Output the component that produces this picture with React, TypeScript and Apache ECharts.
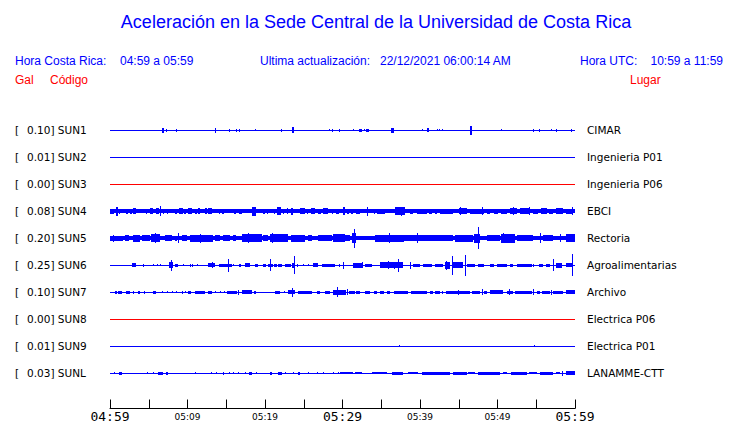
import React, { useEffect, useRef } from "react";
import * as echarts from "echarts";

const codes = ["SUN1", "SUN2", "SUN3", "SUN4", "SUN5", "SUN6", "SUN7", "SUN8", "SUN9", "SUNL"];
const galMax = ["0.10", "0.01", "0.00", "0.08", "0.20", "0.25", "0.10", "0.00", "0.01", "0.03"];
const places = ["CIMAR", "Ingenieria P01", "Ingenieria P06", "EBCI", "Rectoria", "Agroalimentarias", "Archivo", "Electrica P06", "Electrica P01", "LANAMME-CTT"];
const traceColors = ["#0000ff", "#0000ff", "#ff0000", "#0000ff", "#0000ff", "#0000ff", "#0000ff", "#ff0000", "#0000ff", "#0000ff"];
// labels of the ticks at minutes 0, 10, ..., 60 after 04:59
const tickLabels = ["04:59", "05:09", "05:19", "05:29", "05:39", "05:49", "05:59"];
// background noise half-amplitude per trace (units: 10 = trace spacing)
const noise = [0, 0, 0, 0.7, 0.8, 0, 0, 0, 0, 0];

// bursts: [startMinute, endMinute, halfAmplitude]
const sun1 = [[6.75,7.0,0.9],[7.2,7.2,0.5],[8.56,8.56,0.5],[13.6,13.6,0.9],[15.4,15.4,0.5],[16.3,16.4,0.6],[16.6,16.8,0.6],[18.75,18.75,0.3],[22.0,22.0,0.5],[23.5,23.7,1.1],[28.3,28.3,0.3],[28.7,28.7,0.5],[29.6,29.6,0.5],[31.4,31.4,0.4],[32.1,32.5,0.55],[32.8,32.8,0.4],[33.0,33.4,0.55],[36.3,36.6,0.9],[40.2,40.2,0.4],[40.9,41.2,0.75],[42.2,42.2,0.4],[42.4,42.6,0.4],[42.9,42.9,0.4],[46.4,46.7,1.75],[50.4,50.4,0.3],[54.6,54.6,0.5],[55.4,55.4,0.5],[56.9,56.9,0.3],[57.5,57.5,0.5],[59.5,59.5,0.5]];
const sun2: number[][] = [];
const sun3: number[][] = [];
const sun4 = [[0.0,0.5,1.0],[0.8,1.0,1.6],[1.1,1.3,1.0],[2.0,2.3,1.0],[2.6,2.8,1.0],[3.0,3.4,1.1],[4.6,4.8,1.0],[5.1,5.6,1.1],[5.9,6.3,1.1],[6.4,6.55,1.9],[6.8,7.0,1.0],[7.3,7.5,1.0],[8.4,8.6,1.0],[8.9,9.4,1.2],[9.6,9.8,1.0],[10.1,10.6,1.1],[11.0,11.2,1.0],[11.3,11.6,1.1],[12.3,12.5,1.2],[12.7,13.1,1.1],[14.0,14.2,1.0],[14.5,14.75,1.0],[16.0,16.2,1.0],[16.6,17.0,1.0],[18.3,18.9,1.6],[19.8,20.0,1.0],[20.3,20.4,1.0],[21.1,21.3,1.0],[21.6,22.1,1.5],[22.3,22.4,1.0],[22.8,23.0,1.1],[23.4,23.65,1.3],[24.5,25.2,1.1],[25.4,25.6,1.0],[25.9,26.45,1.1],[26.9,27.2,1.0],[27.5,28.1,1.1],[28.6,28.8,1.0],[29.2,29.5,1.0],[30.0,30.3,1.4],[30.6,30.8,0.9],[31.1,31.3,0.9],[31.7,32.3,0.9],[33.2,33.3,1.6],[34.0,34.2,1.0],[34.5,35.5,1.0],[36.8,38.0,1.4],[37.6,37.7,1.6],[38.7,39.1,1.0],[39.6,40.9,1.0],[41.1,41.6,1.0],[41.9,42.2,1.0],[42.6,44.3,1.0],[45.0,46.0,1.1],[45.2,45.3,1.5],[46.4,48.2,1.0],[48.0,48.1,1.5],[48.6,49.0,1.0],[49.5,50.0,1.0],[50.5,51.2,1.0],[51.6,52.5,1.1],[52.0,52.1,1.5],[52.9,54.2,1.1],[54.1,54.2,1.5],[54.6,55.2,1.0],[55.6,56.4,1.1],[56.7,57.2,1.0],[57.6,58.5,1.1],[58.9,59.8,1.0],[59.6,59.7,1.5]];
const sun5 = [[0.0,1.7,1.0],[0.4,0.5,1.3],[1.9,2.4,1.2],[3.0,3.9,1.3],[4.1,5.2,1.2],[5.3,6.45,1.5],[5.8,5.9,1.8],[7.1,8.0,1.2],[8.4,8.6,1.0],[8.8,8.85,1.8],[9.25,9.9,1.2],[10.3,13.3,1.3],[11.6,11.7,1.7],[13.55,14.2,1.1],[14.6,15.5,1.2],[15.9,16.3,1.1],[17.0,19.6,1.4],[17.8,17.9,1.9],[19.8,20.4,1.1],[20.65,23.0,1.4],[20.9,21.0,1.9],[23.4,25.2,1.3],[25.6,26.0,1.1],[26.9,28.6,1.2],[28.8,30.3,1.5],[29.7,31.0,1.1],[31.2,31.8,1.8],[31.5,31.55,3.5],[34.2,37.9,1.3],[36.0,36.05,1.85],[37.9,44.3,1.2],[39.6,39.65,1.8],[44.5,46.9,1.3],[47.0,47.8,1.6],[47.5,47.55,4.0],[48.6,50.3,1.1],[50.5,52.3,1.6],[50.75,50.8,1.9],[52.5,54.6,1.1],[55.5,55.55,1.8],[55.9,57.2,1.1],[58.1,58.15,1.5],[58.9,60.0,1.5]];
const sun6 = [[2.9,3.35,0.8],[4.3,4.3,0.55],[5.6,5.6,0.3],[6.0,6.0,0.3],[6.45,6.45,0.3],[7.66,8.17,1.2],[7.85,7.9,2.0],[8.4,8.8,0.55],[9.46,9.46,0.4],[10.3,10.3,0.5],[10.6,10.6,0.5],[11.2,11.2,0.4],[12.7,13.55,0.75],[13.2,13.3,1.1],[14.0,15.7,0.55],[15.25,15.3,2.5],[15.9,15.9,0.4],[16.6,16.9,0.55],[17.4,18.1,0.8],[18.7,19.1,0.55],[19.8,20.1,0.55],[20.4,21.0,0.55],[20.67,20.72,2.15],[21.2,21.5,0.55],[21.7,22.15,0.55],[22.6,23.4,0.6],[23.5,23.9,1.0],[23.72,23.77,3.3],[24.1,24.3,0.5],[24.95,24.95,0.4],[25.6,25.6,0.4],[26.2,26.9,0.8],[27.3,29.0,0.55],[29.5,29.7,0.5],[30.0,30.05,1.3],[31.4,32.7,0.9],[32.5,32.55,1.1],[32.9,33.8,0.55],[34.8,37.85,1.1],[35.9,35.95,1.5],[36.6,36.65,1.3],[37.1,37.15,2.4],[38.7,38.75,1.3],[39.1,40.0,0.55],[40.4,41.5,0.55],[41.9,43.0,0.6],[43.2,43.9,1.3],[43.4,43.45,1.6],[44.1,44.15,3.45],[44.3,45.6,1.1],[45.85,45.9,3.9],[46.0,47.1,0.55],[47.5,48.2,0.6],[49.0,49.5,0.55],[49.9,51.2,0.55],[51.6,52.0,0.5],[52.5,54.4,0.55],[54.6,54.7,0.6],[55.3,55.9,0.6],[56.3,56.8,0.5],[57.2,57.25,2.3],[57.6,58.3,0.9],[58.9,59.8,0.75],[59.65,59.7,4.1]];
const sun7 = [[0.65,0.86,0.5],[1.08,1.5,0.5],[2.0,2.6,0.55],[3.0,3.0,0.5],[3.66,3.87,0.5],[4.43,4.43,0.5],[5.6,5.9,0.55],[6.67,6.67,0.45],[7.3,7.3,0.45],[7.96,7.96,0.45],[8.5,8.5,0.45],[9.33,9.33,0.5],[9.68,9.68,0.45],[10.1,10.45,0.55],[11.0,12.26,0.6],[12.6,13.1,0.55],[13.55,13.55,0.45],[14.2,14.2,0.45],[14.7,14.7,0.45],[15.14,16.34,0.6],[16.56,16.6,0.85],[17.0,18.3,0.65],[18.6,18.9,0.55],[21.3,21.9,0.55],[22.4,22.4,0.45],[23.0,23.87,0.8],[23.42,23.47,1.6],[24.3,26.0,0.55],[26.7,27.1,0.5],[27.74,28.4,0.6],[28.8,30.5,0.9],[29.3,29.36,1.9],[30.6,30.65,1.2],[30.8,31.6,0.55],[31.8,32.3,0.5],[32.9,33.55,0.5],[34.0,34.4,0.5],[34.8,35.3,0.5],[35.7,36.1,0.5],[36.6,38.5,0.55],[38.9,40.9,0.55],[41.3,41.7,0.5],[41.9,42.6,0.55],[42.8,43.0,0.5],[43.4,46.4,0.55],[44.95,45.0,0.9],[46.7,47.7,0.6],[48.0,48.05,1.1],[48.2,48.6,0.55],[49.0,50.75,0.7],[51.2,52.0,0.6],[51.5,51.55,1.2],[52.3,54.4,0.55],[54.6,54.65,1.2],[55.05,55.5,0.5],[55.7,56.8,0.6],[56.85,56.9,0.9],[57.2,58.5,0.55],[58.9,60.0,0.7]];
const sun8: number[][] = [];
const sun9 = [[37.3,37.3,0.3],[54.75,54.75,0.3]];
const sunl = [[0.56,0.56,0.35],[1.16,1.5,0.55],[4.73,4.73,0.3],[5.59,5.59,0.3],[6.24,6.88,0.6],[7.18,7.44,0.5],[10.97,10.97,0.4],[13.0,13.0,0.4],[13.7,13.7,0.4],[14.6,14.7,0.5],[15.4,15.4,0.4],[15.9,15.9,0.4],[16.56,16.6,0.45],[17.4,17.4,0.4],[17.9,18.3,0.55],[18.9,18.9,0.35],[20.65,20.86,0.5],[21.7,22.15,0.5],[22.6,22.6,0.4],[23.65,23.65,0.4],[24.3,24.5,0.5],[25.6,25.6,0.35],[26.7,26.7,0.4],[27.5,27.5,0.35],[28.8,28.8,0.4],[29.46,29.46,0.35],[29.7,31.4,0.45],[31.6,32.5,0.45],[33.8,35.7,0.45],[36.35,37.85,0.55],[38.5,39.8,0.45],[40.2,43.9,0.5],[44.3,46.0,0.5],[46.2,47.1,0.45],[47.5,50.3,0.55],[50.75,51.2,0.45],[51.8,53.8,0.5],[54.0,55.05,0.45],[55.5,57.2,0.5],[57.6,58.1,0.45],[58.3,58.35,0.9],[58.9,60.0,0.7]];
const bursts = [sun1, sun2, sun3, sun4, sun5, sun6, sun7, sun8, sun9, sunl];

const SPACING = 10;

export default function App() {
  const ref = useRef<HTMLDivElement>(null);
  useEffect(() => {
    document.body.style.margin = "0";
    const chart = echarts.init(ref.current!, null, { renderer: "svg" });
    const items: number[][] = [];
    bursts.forEach((list, i) => {
      items.push([i, 0, 60, noise[i]]);
      list.forEach((b) => items.push([i, b[0], b[1], b[2]]));
    });
    const sans = "'Liberation Sans', Arial, sans-serif";
    const deja = "'DejaVu Sans', sans-serif";
    const yMax = -SPACING + (306 / 27) * SPACING;
    const option: any = {
      animation: false,
      backgroundColor: "#ffffff",
      grid: { left: 110, right: 165, top: 103, height: 306 },
      xAxis: {
        type: "value",
        min: 0,
        max: 60,
        interval: 5,
        axisLine: { show: true, onZero: false, lineStyle: { color: "#000", width: 1 } },
        axisTick: { show: true, inside: true, length: 9, lineStyle: { color: "#000", width: 1 } },
        splitLine: { show: false },
        axisLabel: {
          margin: 1,
          showMinLabel: true,
          showMaxLabel: true,
          formatter: (v: number) => {
            if (v % 10 !== 0) return "";
            const lbl = tickLabels[v / 10];
            return v % 30 === 0 ? `{big|${lbl}}` : `{small|${lbl}}`;
          },
          rich: {
            big: { fontFamily: "'DejaVu Sans Mono', monospace", fontSize: 13, fontWeight: "normal", color: "#000", lineHeight: 14 },
            small: { fontFamily: deja, fontSize: 9, color: "#000", lineHeight: 14 },
          },
        },
      },
      yAxis: [
        {
          type: "value",
          inverse: true,
          min: -SPACING,
          max: yMax,
          interval: SPACING,
          axisLine: { show: false },
          axisTick: { show: false },
          splitLine: { show: false },
          axisLabel: {
            align: "left",
            margin: 95,
            color: "#000",
            formatter: (v: number) => {
              const i = Math.round(v / SPACING);
              if (Math.abs(v - i * SPACING) > 0.01 || i < 0 || i > 9) return "";
              return `{b|[}{v|${galMax[i]}] ${codes[i]}}`;
            },
            rich: {
              b: { width: 12, fontFamily: deja, fontSize: 10.5, color: "#000" },
              v: { fontFamily: deja, fontSize: 10.5, color: "#000" },
            },
          },
        },
        {
          type: "value",
          position: "right",
          inverse: true,
          min: -SPACING,
          max: yMax,
          interval: SPACING,
          axisLine: { show: false },
          axisTick: { show: false },
          splitLine: { show: false },
          axisLabel: {
            align: "left",
            margin: 12,
            fontFamily: deja,
            fontSize: 10.5,
            color: "#000",
            formatter: (v: number) => {
              const i = Math.round(v / SPACING);
              if (Math.abs(v - i * SPACING) > 0.01 || i < 0 || i > 9) return "";
              return places[i];
            },
          },
        },
      ],
      series: [
        {
          type: "custom",
          xAxisIndex: 0,
          yAxisIndex: 0,
          data: items,
          encode: { x: [1, 2] },
          renderItem: (params: any, api: any) => {
            const i = api.value(0);
            const t0 = api.value(1);
            const t1 = api.value(2);
            const a = api.value(3);
            const base = i * SPACING;
            const pTop = api.coord([t0, base - a]);
            const pBot = api.coord([t1, base + a]);
            const pMid = api.coord([t0, base]);
            const x = Math.round(pTop[0]);
            const w = Math.max(1, Math.round(pBot[0]) - x);
            const full = Math.abs(pBot[1] - pTop[1]);
            const h = Math.max(1, Math.round(full));
            const yc = Math.round(pMid[1]);
            const y = yc - Math.floor(h / 2);
            return {
              type: "rect",
              shape: { x, y, width: w, height: h },
              style: { fill: traceColors[i] },
            };
          },
        },
      ],
      graphic: [
        { type: "text", x: 376, y: 22, style: { text: "Aceleración en la Sede Central de la Universidad de Costa Rica", fill: "#0000ff", font: `18px ${sans}`, textAlign: "center", textVerticalAlign: "middle" } },
        { type: "text", x: 15, y: 61, style: { text: "Hora Costa Rica:", fill: "#0000ff", font: `12px ${sans}`, textVerticalAlign: "middle" } },
        { type: "text", x: 120, y: 61, style: { text: "04:59 a 05:59", fill: "#0000ff", font: `12px ${sans}`, textVerticalAlign: "middle" } },
        { type: "text", x: 260, y: 61, style: { text: "Ultima actualización:", fill: "#0000ff", font: `12px ${sans}`, textVerticalAlign: "middle" } },
        { type: "text", x: 380, y: 61, style: { text: "22/12/2021 06:00:14 AM", fill: "#0000ff", font: `12px ${sans}`, textVerticalAlign: "middle" } },
        { type: "text", x: 580, y: 61, style: { text: "Hora UTC:", fill: "#0000ff", font: `12px ${sans}`, textVerticalAlign: "middle" } },
        { type: "text", x: 723, y: 61, style: { text: "10:59 a 11:59", fill: "#0000ff", font: `12px ${sans}`, textAlign: "right", textVerticalAlign: "middle" } },
        { type: "text", x: 15, y: 80, style: { text: "Gal", fill: "#ff0000", font: `12px ${sans}`, textVerticalAlign: "middle" } },
        { type: "text", x: 50, y: 80, style: { text: "Código", fill: "#ff0000", font: `12px ${sans}`, textVerticalAlign: "middle" } },
        { type: "text", x: 630, y: 80, style: { text: "Lugar", fill: "#ff0000", font: `12px ${sans}`, textVerticalAlign: "middle" } },
      ],
    };
    chart.setOption(option);
    return () => chart.dispose();
  }, []);
  return <div ref={ref} style={{ position: "absolute", left: 0, top: 0, width: 740, height: 423 }} />;
}
